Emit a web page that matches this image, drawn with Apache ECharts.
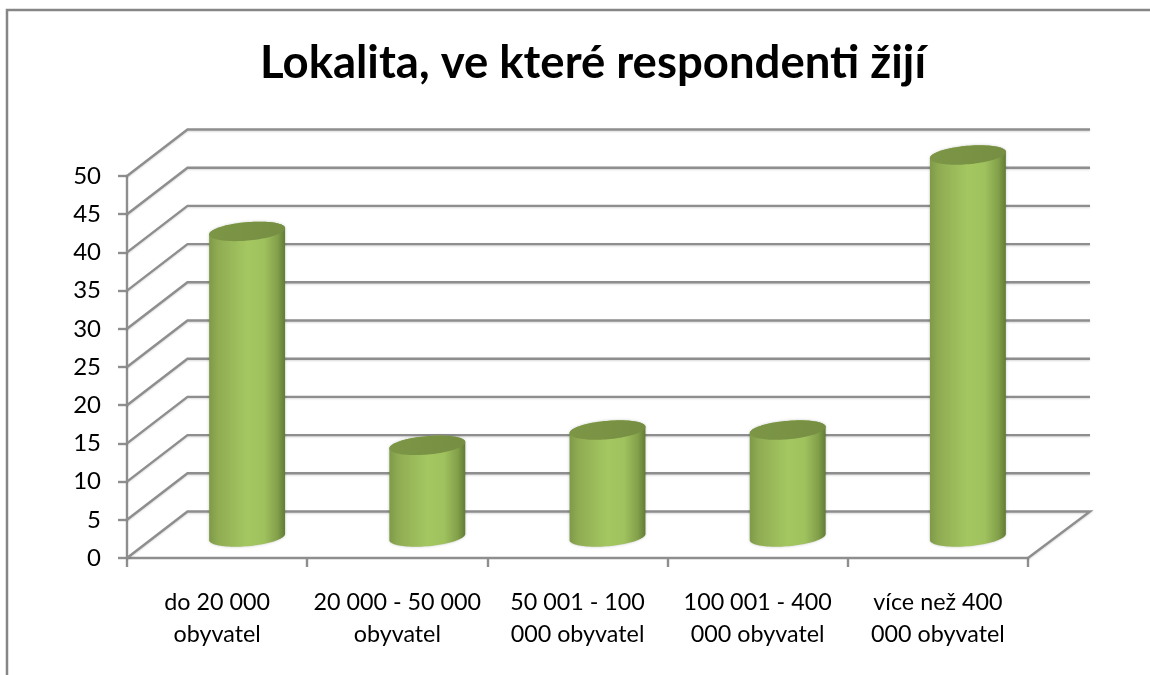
<!DOCTYPE html>
<html>
<head>
<meta charset="utf-8">
<style>html,body{margin:0;padding:0;background:#fff}#c{width:1150px;height:675px}</style>
<script src="https://cdn.jsdelivr.net/npm/echarts@6/dist/echarts.min.js"></script>
</head>
<body>
<div id="c"></div>
<script>
const titleText = 'Lokalita, ve které respondenti žijí';
const categories = ['do 20 000\nobyvatel', '20 000 - 50 000\nobyvatel', '50 001 - 100\n000 obyvatel', '100 001 - 400\n000 obyvatel', 'více než 400\n000 obyvatel'];
const respondents = [40, 12, 14, 14, 50];
const gridTicks = [0, 5, 10, 15, 20, 25, 30, 35, 40, 45, 50];

const FONT = 'Lato';
const GREY = '#8e8e8e';
const DEPTH_X = 60.5, DEPTH_X_RIGHT = 62, DEPTH_Y = -46.5;
const BASE_SHIFT_X = 30, BASE_SHIFT_Y = -21;
const RX = 38.1, RY = 9.2, TILT = 5 * Math.PI / 180;

function ellipsePoint(cx, cy, t) {
  const ex = RX * Math.cos(t), ey = RY * Math.sin(t);
  return [cx + ex * Math.cos(TILT) + ey * Math.sin(TILT),
          cy - ex * Math.sin(TILT) + ey * Math.cos(TILT)];
}

function renderWall(params, api) {
  const cs = params.coordSys;
  const v = api.value(1);
  const y = api.coord([0, v])[1];
  const l = cs.x, r = cs.x + cs.width;
  const pts = [[l, y], [l + DEPTH_X, y + DEPTH_Y], [r + DEPTH_X_RIGHT, y + DEPTH_Y]];
  if (v === 0) pts.push([r, y]);
  return {
    type: 'polyline',
    shape: { points: pts },
    style: { fill: null, stroke: GREY, lineWidth: 2.4, shadowBlur: 2, shadowColor: 'rgba(0,0,0,0.15)', shadowOffsetY: 1 }
  };
}

function renderCylinder(params, api) {
  const base = api.coord([api.value(0), 0]);
  const top = api.coord([api.value(0), api.value(1)]);
  const cx = base[0] + BASE_SHIFT_X;
  const by = base[1] + BASE_SHIFT_Y;
  const ty = top[1] + BASE_SHIFT_Y;
  const pts = [];
  const steps = 48;
  // the upper half of the top rim, then the lower half of the bottom rim
  for (let i = 0; i <= steps; i++) pts.push(ellipsePoint(cx, ty, Math.PI + Math.PI * i / steps));
  for (let i = 0; i <= steps; i++) pts.push(ellipsePoint(cx, by, Math.PI * i / steps));
  const lid = [];
  for (let i = 0; i < steps * 2; i++) lid.push(ellipsePoint(cx, ty, Math.PI * i / steps));
  return {
    type: 'group',
    children: [
      {
        type: 'polygon',
        shape: { points: pts },
        style: {
          fill: new echarts.graphic.LinearGradient(0, 0, 1, 0, [
            { offset: 0, color: '#7f9a48' },
            { offset: 0.12, color: '#90ac53' },
            { offset: 0.5, color: '#a4c761' },
            { offset: 0.72, color: '#a0c25e' },
            { offset: 0.9, color: '#83a04a' },
            { offset: 1, color: '#617c35' }
          ]),
          shadowBlur: 3,
          shadowColor: 'rgba(0,0,0,0.22)'
        }
      },
      {
        type: 'polygon',
        shape: { points: lid },
        style: {
          fill: new echarts.graphic.LinearGradient(0, 0, 1, 0, [
            { offset: 0, color: '#7c9646' },
            { offset: 1, color: '#768e42' }
          ])
        }
      }
    ]
  };
}

const chart = echarts.init(document.getElementById('c'), null, { renderer: 'canvas' });
chart.setOption({
  animation: false,
  backgroundColor: '#ffffff',
  title: {
    text: titleText,
    left: 588,
    top: 35,
    textAlign: 'center',
    textStyle: { fontFamily: FONT, fontSize: 45.5, fontWeight: 'bold', color: '#000' }
  },
  graphic: [{
    type: 'polyline',
    shape: { points: [[7, 675], [7, 10], [1150, 10]] },
    style: { fill: null, stroke: '#868686', lineWidth: 2.5 }
  }],
  grid: { left: 127, right: 122, top: 176, bottom: 117 },
  xAxis: {
    type: 'category',
    data: categories,
    axisLine: { lineStyle: { color: GREY, width: 2.4 } },
    axisTick: { show: true, alignWithLabel: false, length: 9, lineStyle: { color: GREY, width: 2.4 } },
    axisLabel: { interval: 0, margin: 28, fontFamily: FONT, fontSize: 23.3, lineHeight: 32, color: '#000' }
  },
  yAxis: {
    type: 'value',
    min: 0,
    max: 50,
    interval: 5,
    axisLine: { show: true, lineStyle: { color: GREY, width: 2.4 } },
    axisTick: { show: true, length: 9, lineStyle: { color: GREY, width: 2.4 } },
    axisLabel: { margin: 26, padding: [2, 0, 0, 0], fontFamily: FONT, fontSize: 24, color: '#000' },
    splitLine: { show: false }
  },
  series: [
    {
      name: 'walls',
      type: 'custom',
      renderItem: renderWall,
      data: gridTicks.map(v => [0, v]),
      encode: { x: 0, y: 1 },
      silent: true,
      z: 1
    },
    {
      name: 'Lokalita',
      type: 'custom',
      renderItem: renderCylinder,
      data: respondents.map((v, i) => [i, v]),
      encode: { x: 0, y: 1 },
      z: 3
    }
  ]
});
</script>
</body>
</html>
